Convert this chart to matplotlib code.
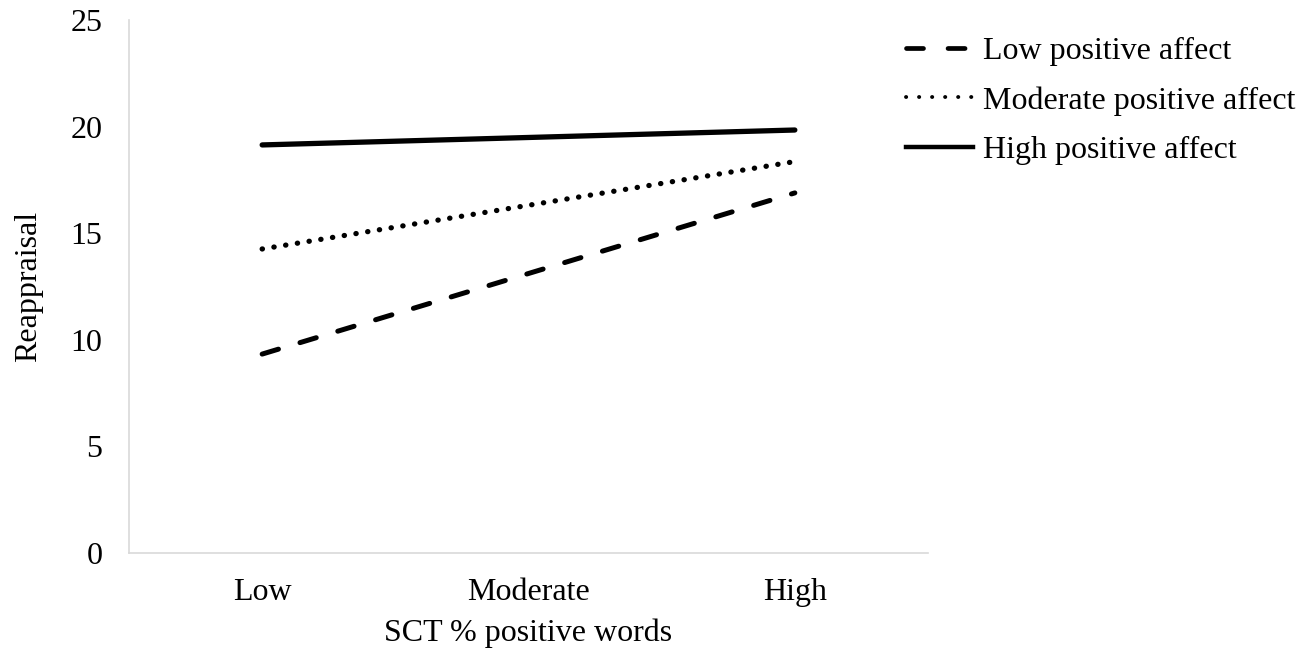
import matplotlib
matplotlib.use('Agg')
import matplotlib.pyplot as plt
from matplotlib.lines import Line2D

# data
categories = ['Low', 'Moderate', 'High']
x_points = [0, 2]  # lines only defined at Low and High
low_affect = [9.33, 16.89]
moderate_affect = [14.26, 18.36]
high_affect = [19.14, 19.84]
series_labels = ['Low positive affect', 'Moderate positive affect', 'High positive affect']

plt.rcParams['font.family'] = ['Liberation Serif', 'DejaVu Serif']
plt.rcParams['font.size'] = 23

fig = plt.figure(figsize=(13.02, 6.55), dpi=100)
ax = fig.add_axes([129 / 1302, 1 - 553 / 655, (928 - 129) / 1302, (553 - 20) / 655])

ax.plot(x_points, low_affect, color='black', lw=3.6, linestyle=(0, (3.4, 4.5)),
        dash_capstyle='round')
ax.plot(x_points, moderate_affect, color='black', lw=3.8, linestyle=(0, (0.05, 2.2)),
        dash_capstyle='round')
ax.plot(x_points, high_affect, color='black', lw=3.8, solid_capstyle='round')

ax.set_xlim(-0.5, 2.5)
ax.set_ylim(0, 25)
ax.set_yticks([0, 5, 10, 15, 20, 25])
ax.set_xticks(range(len(categories)))
ax.set_xticklabels(categories)
ax.tick_params(axis='both', length=0)
ax.tick_params(axis='y', pad=19)
ax.tick_params(axis='x', pad=18)

for side in ['top', 'right']:
    ax.spines[side].set_visible(False)
for side in ['left', 'bottom']:
    ax.spines[side].set_color('#d9d9d9')
    ax.spines[side].set_linewidth(1.2)

ax.set_xlabel('SCT % positive words', labelpad=8)
ax.set_ylabel('Reappraisal', labelpad=20)

# legend handles drawn like the reference (shorter marks than in the plot)
handles = [
    Line2D([], [], color='black', lw=3.4, linestyle=(0, (3.6, 5.2)), dash_capstyle='round'),
    Line2D([], [], color='black', lw=2.8, linestyle=(0, (0.05, 3.3)), dash_capstyle='round'),
    Line2D([], [], color='black', lw=3.2),
]
fig.legend(handles, series_labels, loc='upper left',
           bbox_to_anchor=(906 / 1302, 1 - 37 / 655), frameon=False,
           handlelength=2.1, handletextpad=0.3, labelspacing=0.62, borderaxespad=0,
           borderpad=0)

fig.savefig('out.png', dpi=100)
